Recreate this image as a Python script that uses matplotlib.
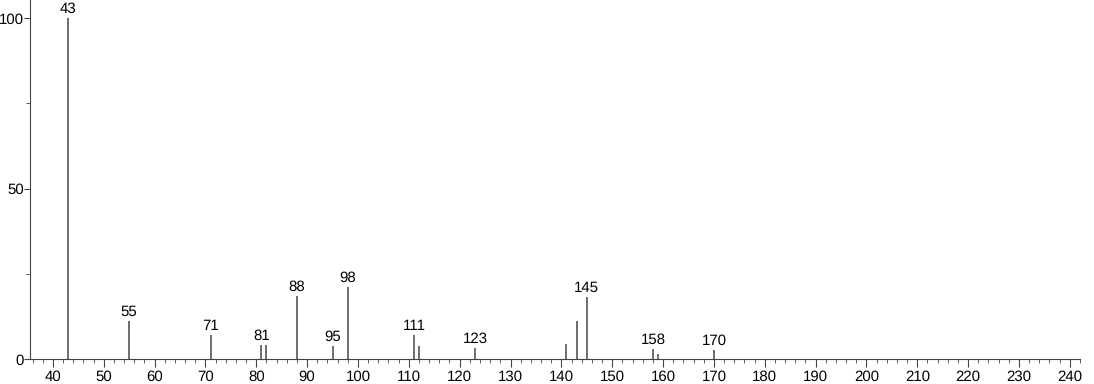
import matplotlib.pyplot as plt
from matplotlib.ticker import MultipleLocator

plt.rcParams['font.family'] = ['Liberation Sans', 'DejaVu Sans']
plt.rcParams['text.hinting'] = 'no_hinting'
plt.rcParams['text.hinting_factor'] = 1

# m/z and relative intensity
mz = [43, 55, 71, 81, 82, 88, 95, 98, 111, 112, 123, 141, 143, 145, 158, 159, 170]
intensity = [100, 11.1, 7.0, 4.1, 4.1, 18.5, 3.8, 21.2, 7.0, 3.8, 3.1, 4.4, 11.1, 18.2, 2.8, 1.6, 2.6]
labelled = [43, 55, 71, 81, 88, 95, 98, 111, 123, 145, 158, 170]

fig = plt.figure(figsize=(10.94, 3.84), dpi=100)
ax = fig.add_axes([30 / 1094, 25 / 384, 1050 / 1094, 359 / 384])

ax.vlines(mz, 0, intensity, color='#555555', linewidth=1.2)
for x, y in zip(mz, intensity):
    if x in labelled:
        ax.text(x, y + 0.6, str(x), ha='center', va='bottom', fontsize=10.5)

ax.set_xlim(35.5, 242)
ax.set_ylim(0, 105.3)

ax.xaxis.set_major_locator(MultipleLocator(10))
ax.xaxis.set_minor_locator(MultipleLocator(2))
ax.yaxis.set_major_locator(MultipleLocator(50))
ax.yaxis.set_minor_locator(MultipleLocator(25))

for s in ['top', 'right']:
    ax.spines[s].set_visible(False)
for s in ['left', 'bottom']:
    ax.spines[s].set_color('#444444')

ax.tick_params(axis='x', which='major', length=6, color='#444444', labelsize=10.5, pad=2)
ax.tick_params(axis='y', which='major', length=4, color='#444444', labelsize=10.5, pad=0.5)
ax.tick_params(axis='both', which='minor', length=3, color='#444444')

fig.savefig('out.png', dpi=100)
